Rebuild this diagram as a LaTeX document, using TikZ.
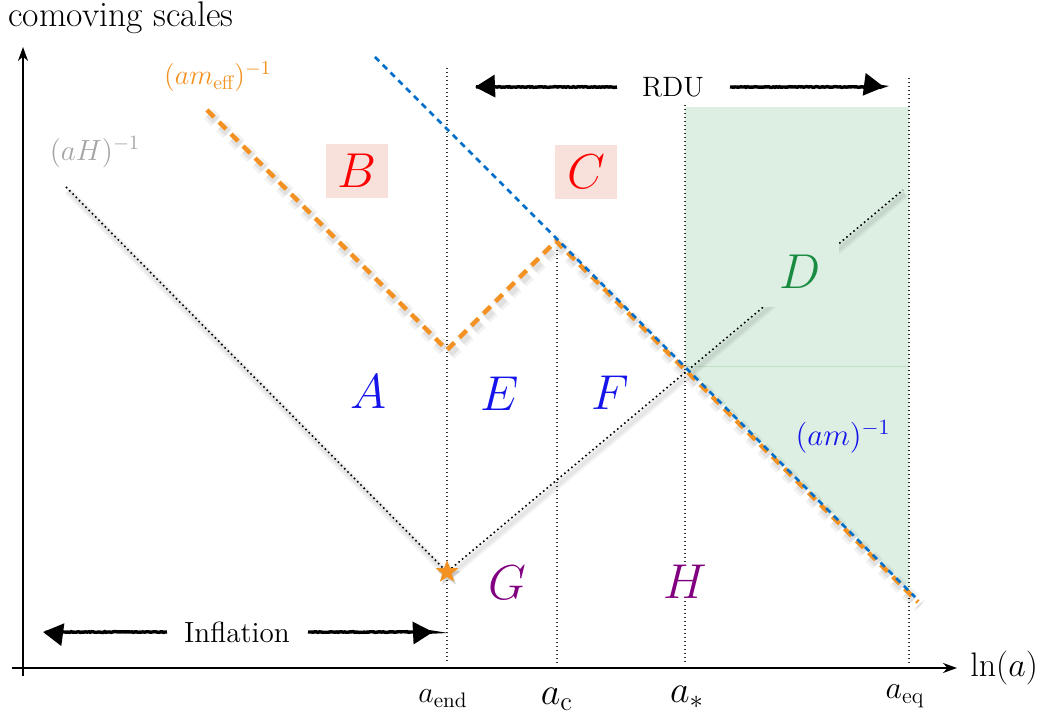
\RequirePackage{fix-cm}
\documentclass[tikz,border=0pt]{standalone}
\usepackage{amsmath}
\usetikzlibrary{arrows.meta,decorations.pathmorphing,shapes.geometric}
\definecolor{myorange}{RGB}{243,146,34}
\definecolor{myblue}{RGB}{0,110,200}
\definecolor{greenbg}{RGB}{221,239,226}
\definecolor{dgreen}{RGB}{25,140,65}
\definecolor{lblue}{RGB}{20,20,235}
\definecolor{pinkbg}{RGB}{248,224,219}
\definecolor{lgray}{RGB}{165,165,165}
\definecolor{mypurple}{RGB}{128,0,128}
\tikzset{
  vline/.style={black!80, line width=0.55pt, dash pattern=on 0.6pt off 1.4pt},
  hubble/.style={black, line width=0.8pt, dash pattern=on 0.8pt off 1.5pt},
  effline/.style={myorange, line width=2.2pt, dash pattern=on 5pt off 3.5pt},
  massline/.style={myblue, line width=1.3pt, dash pattern=on 3pt off 2.5pt},
  shadowline/.style={black, opacity=0.05, line width=#1},
  region/.style={inner sep=0pt, font=\fontsize{24.5}{28}\selectfont},
  boxed/.style={fill=pinkbg, inner xsep=6pt, inner ysep=5pt},
  rough/.style={line width=1.7pt, decorate, decoration={random steps, segment length=0.8pt, amplitude=0.2pt}},
  roughtip/.style={-{Triangle[length=10pt,width=11pt]}},
  lab/.style={inner sep=0pt},
}
\begin{document}
\begin{tikzpicture}[x=0.5pt,y=-0.5pt]
\useasboundingbox (0,0) rectangle (1040,715);
% green regions
\fill[greenbg] (685,107) rectangle (909,366);
\fill[greenbg] (685,366) -- (909,366) -- (909,590) -- cycle;
\draw[green!40!black, opacity=0.12, line width=0.4pt] (685,366) -- (909,366);
% vertical dotted lines
\coordinate (endT) at (447,68);  \coordinate (endB) at (447,663);
\coordinate (cT) at (557,250);   \coordinate (cB) at (557,663);
\coordinate (sT) at (685,105);   \coordinate (sB) at (685,663);
\coordinate (eqT) at (909,78);   \coordinate (eqB) at (909,663);
\draw[vline] (endT) -- (endB);
\draw[vline] (cT) -- (cB);
\draw[vline] (sT) -- (sB);
\draw[vline] (eqT) -- (eqB);
% axes
\coordinate (O1) at (12,668); \coordinate (X1) at (957,668);
\coordinate (O2) at (23,676); \coordinate (Y1) at (23,47);
\draw[line width=1pt, -{Stealth[length=7pt,width=5pt]}] (O1) -- (X1);
\draw[line width=1pt, -{Stealth[length=7pt,width=5pt]}] (O2) -- (Y1);
\node[anchor=base west, inner sep=0pt, font=\fontsize{17.8}{20}\selectfont] (ylab) at (8,27) {comoving scales};
\node[anchor=west, inner sep=0pt, font=\fontsize{17}{20}\selectfont] (xlab) at (970,668) {$\ln(a)$};
% Hubble line
\coordinate (h1) at (66,187); \coordinate (h2) at (447,572); \coordinate (h3) at (903,190);
\draw[shadowline=4pt] ([shift={(2,4)}]h1) -- ([shift={(2,4)}]h2) -- ([shift={(2,4)}]h3);
\draw[shadowline=2pt] ([shift={(2,4)}]h1) -- ([shift={(2,4)}]h2) -- ([shift={(2,4)}]h3);
\draw[hubble] (h1) -- (h2) -- (h3);
% D label with gap
\node[region, text=dgreen, fill=greenbg, inner sep=9pt] (D) at (800,272) {$D$};
% orange eff line
\coordinate (o1) at (207,110); \coordinate (o2) at (447,350); \coordinate (o3) at (556,241); \coordinate (o4) at (918,602);
\draw[shadowline=7pt, dash pattern=on 5pt off 3.5pt, opacity=0.05] ([shift={(2,4)}]o1) -- ([shift={(2,4)}]o2) -- ([shift={(2,4)}]o3) -- ([shift={(2,4)}]o4);
\draw[shadowline=4pt, dash pattern=on 5pt off 3.5pt, opacity=0.07] ([shift={(2,4)}]o1) -- ([shift={(2,4)}]o2) -- ([shift={(2,4)}]o3) -- ([shift={(2,4)}]o4);
\draw[effline] (o1) -- (o2) -- (o3) -- (o4);
% blue mass line
\coordinate (m1) at (375,57); \coordinate (m2) at (915,597);
\draw[massline] (m1) -- (m2);
% star
\node[star, star points=5, star point ratio=2.4, fill=black, opacity=0.15, minimum size=12pt, inner sep=0pt] at (449,575) {};
\node[star, star points=5, star point ratio=2.4, fill=myorange, minimum size=12pt, inner sep=0pt] (star) at (447,572) {};
% curve labels
\node[lab, text=lgray, font=\fontsize{14.6}{17}\selectfont] (aH) at (95,152) {$(aH)^{-1}$};
\node[lab, text=myorange, font=\fontsize{14}{17}\selectfont] (ameff) at (218,77) {$(am_{\text{eff}})^{-1}$};
\node[lab, text=lblue, font=\fontsize{15.5}{18}\selectfont] (am) at (843,437) {$(am)^{-1}$};
% region letters
\node[region, boxed, text=red] (B) at (357,171) {$B$};
\node[region, boxed, text=red] (C) at (586,172) {$C$};
\node[region, text=lblue] (A) at (368,392) {$A$};
\node[region, text=lblue] (E) at (500,394) {$E$};
\node[region, text=lblue] (F) at (610,393) {$F$};
\node[region, text=mypurple] (G) at (507,583) {$G$};
\node[region, text=mypurple, fill=white, inner ysep=1pt] (H) at (685,582) {$H$};
% RDU arrows
\node[lab, font=\fontsize{14}{17}\selectfont] (RDU) at (673,87) {RDU};
\coordinate (rL) at (475,87); \coordinate (rR) at (884,87);
\coordinate (rLt) at (617,87); \coordinate (rRt) at (730,87);
\draw[rough, roughtip] (rLt) -- (rL);
\draw[rough, roughtip] (rRt) -- (rR);
% Inflation arrows
\node[lab, font=\fontsize{14.6}{17}\selectfont] (Infl) at (237,632) {Inflation};
\coordinate (iL) at (43,632); \coordinate (iR) at (433,632);
\coordinate (iLt) at (167,632); \coordinate (iRt) at (308,632);
\draw[rough, roughtip] (iLt) -- (iL);
\draw[rough, roughtip] (iRt) -- (iR);
% bottom labels
\node[anchor=base, inner sep=0pt, font=\fontsize{15}{18}\selectfont] (lend) at (443,703) {$a_{\text{end}}$};
\node[anchor=base, inner sep=0pt, font=\fontsize{19}{22}\selectfont] (lc) at (557,705) {$a_{\text{c}}$};
\node[anchor=base, inner sep=0pt, font=\fontsize{19}{22}\selectfont] (ls) at (687,703) {$a_{*}$};
\node[anchor=base, inner sep=0pt, font=\fontsize{16}{19}\selectfont] (leq) at (905,699) {$a_{\text{eq}}$};
\end{tikzpicture}
\end{document}
